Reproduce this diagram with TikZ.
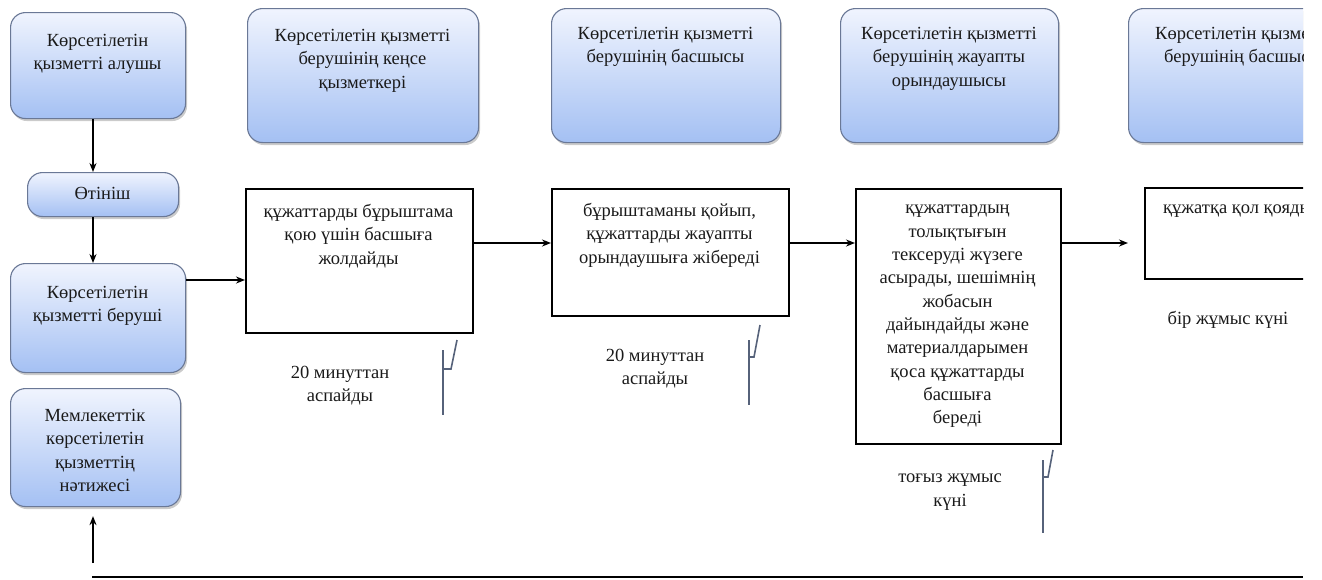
\documentclass[tikz,border=0pt]{standalone}
\usepackage{fontspec}
\setmainfont{Liberation Serif}
\usetikzlibrary{arrows.meta,shadows}
\definecolor{boxtop}{HTML}{F0F4FE}
\definecolor{boxbot}{HTML}{A4C0F3}
\definecolor{boxborder}{HTML}{6A7896}
\definecolor{txtcol}{HTML}{1A1A1A}
\definecolor{tickcol}{HTML}{56627A}
\begin{document}
\begin{tikzpicture}[x=1pt,y=-1pt,
  rbox/.style={rounded corners=15pt, draw=boxborder, line width=1.1pt,
    top color=boxtop, bottom color=boxbot, anchor=north west, inner sep=0pt,
    drop shadow={shadow xshift=1.5pt, shadow yshift=-2.5pt, fill=black!45, opacity=0.45}},
  sbox/.style={draw=black, line width=1.7pt, fill=white, anchor=north west, inner sep=0pt},
  txt/.style={anchor=north, inner sep=0pt, align=center, text=txtcol,
    font=\fontsize{18.5}{23.3}\selectfont},
  arr/.style={-{Stealth[length=9pt,width=7pt]}, line width=1.8pt, draw=black},
  tickmark/.style={draw=tickcol, line width=1.6pt}
]
\useasboundingbox (0,0) rectangle (1322,579);

% rounded boxes, left column
\node[rbox, minimum width=175pt, minimum height=106pt] (A) at (10,12) {};
\node[txt] (At) at (97.5,34) {Көрсетілетін\\қызметті алушы};
\node[rbox, minimum width=151pt, minimum height=44pt] (Ot) at (27,172) {};
\node[txt] (Ott) at (102.5,187) {Өтініш};
\node[rbox, minimum width=175pt, minimum height=109pt] (Ber) at (10,263) {};
\node[txt] (Bert) at (97.5,286) {Көрсетілетін\\қызметті беруші};
\node[rbox, minimum width=170pt, minimum height=118pt] (Mem) at (10,388) {};
\node[txt] (Memt) at (95,409) {Мемлекеттік\\көрсетілетін\\қызметтің\\нәтижесі};

% rounded boxes, top row
\node[rbox, minimum width=231pt, minimum height=134pt] (B) at (247,8) {};
\node[txt] (Bt) at (362.5,29) {Көрсетілетін қызметті\\берушінің кеңсе\\қызметкері};
\node[rbox, minimum width=229pt, minimum height=134pt] (C) at (551,8) {};
\node[txt] (Ct) at (665.5,27) {Көрсетілетін қызметті\\берушінің басшысы};
\node[rbox, minimum width=218pt, minimum height=134pt] (D) at (840,8) {};
\node[txt] (Dt) at (949,27) {Көрсетілетін қызметті\\берушінің жауапты\\орындаушысы};

% process boxes
\node[sbox, minimum width=227pt, minimum height=144pt] (b1) at (245,188) {};
\node[txt] (b1t) at (358.5,204) {құжаттарды бұрыштама\\қою үшін басшыға\\жолдайды};
\node[sbox, minimum width=237pt, minimum height=127pt] (b2) at (551,188) {};
\node[txt] (b2t) at (669.5,203) {бұрыштаманы қойып,\\құжаттарды жауапты\\орындаушыға жібереді};
\node[sbox, minimum width=205pt, minimum height=255pt] (b3) at (855,188) {};
\node[txt] (b3t) at (957.5,205) {құжаттардың\\толықтығын\\тексеруді жүзеге\\асырады, шешімнің\\жобасын\\дайындайды және\\материалдарымен\\қоса құжаттарды\\басшыға\\береді};

% clipped right part
\begin{scope}
\clip (0,0) rectangle (1303,579);
\node[rbox, minimum width=230pt, minimum height=134pt] (E) at (1128,8) {};
\node[txt] (Et) at (1243,27) {Көрсетілетін қызметті\\берушінің басшысы};
\node[sbox, minimum width=195pt, minimum height=91pt] (b4) at (1144,187) {};
\node[txt, anchor=north west] (b4t) at (1163,205) {құжатқа қол қояды};
\end{scope}

% time labels
\node[txt] (L1) at (340,366) {20 минуттан\\аспайды};
\node[txt] (L2) at (655,349) {20 минуттан\\аспайды};
\node[txt] (L3) at (950,474) {тоғыз жұмыс\\күні};
\node[txt] (L4) at (1228,311) {бір жұмыс күні};

% connectors
\coordinate (colx) at (93,0);
\coordinate (row1) at (0,280);
\coordinate (row2) at (0,243);
\draw[arr] (A.south -| colx) -- (Ot.north -| colx);
\draw[arr] (Ot.south -| colx) -- (Ber.north -| colx);
\draw[arr] (Ber.east |- row1) -- (b1.west |- row1);
\draw[arr] (b1.east |- row2) -- (b2.west |- row2);
\draw[arr] (b2.east |- row2) -- (b3.west |- row2);
\coordinate (tip4) at (1128,243);
\draw[arr] (b3.east |- tip4) -- (tip4);
\coordinate (lineL) at (92,577);
\coordinate (lineR) at (1303,577);
\draw[line width=1.7pt] (lineL) -- (lineR);
\coordinate (upS) at (93,563);
\draw[arr] (upS) -- ([yshift=-9pt]Mem.south -| upS);

% tick marks
\draw[tickmark] (443,350) -- (443,415);
\draw[tickmark] (443,369) -- (451,369) -- (457,340);
\draw[tickmark] (749,340) -- (749,405);
\draw[tickmark] (749,357) -- (754,357) -- (760,325);
\draw[tickmark] (1043,460) -- (1043,533);
\draw[tickmark] (1043,477) -- (1048,477) -- (1053,450);
\end{tikzpicture}
\end{document}
